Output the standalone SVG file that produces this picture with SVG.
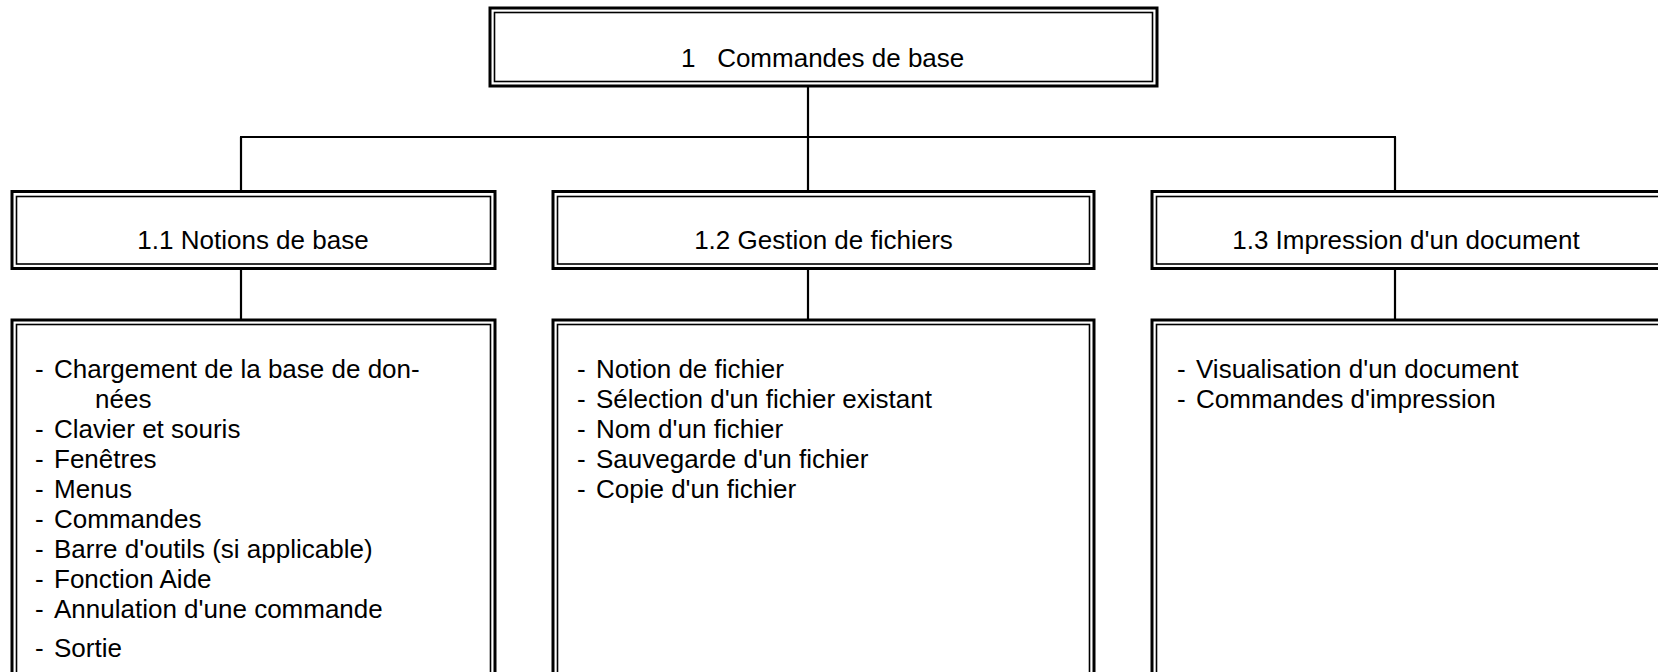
<svg xmlns="http://www.w3.org/2000/svg" width="1658" height="672" viewBox="0 0 1658 672">
<style>
.o{fill:#fff;stroke:#000;stroke-width:3}
.i{fill:none;stroke:#000;stroke-width:1.6}
.c line{stroke:#000;stroke-width:2.2}
text{font-family:"Liberation Sans",Arial,sans-serif;font-size:26px;fill:#000;white-space:pre}
.m{text-anchor:middle}
</style>
<rect width="1658" height="672" fill="#fff"/>
<g id="connectors" class="c">
<line x1="808" y1="86" x2="808" y2="137"/>
<line x1="240" y1="137" x2="1396" y2="137"/>
<line x1="241" y1="137" x2="241" y2="191"/>
<line x1="808" y1="137" x2="808" y2="191"/>
<line x1="1395" y1="137" x2="1395" y2="191"/>
<line x1="241" y1="268" x2="241" y2="320"/>
<line x1="808" y1="268" x2="808" y2="320"/>
<line x1="1395" y1="268" x2="1395" y2="320"/>
</g>
<g id="n1">
<rect class="o" x="490" y="8" width="667" height="78"/>
<rect class="i" x="494.5" y="12.5" width="658" height="69"/>
<text x="681" y="67" xml:space="preserve">1   Commandes de base</text>
</g>
<g id="n11">
<rect class="o" x="12" y="191.5" width="483" height="77"/>
<rect class="i" x="16.5" y="196.5" width="474" height="67.5"/>
<text class="m" x="253" y="249">1.1 Notions de base</text>
</g>
<g id="n12">
<rect class="o" x="553" y="191.5" width="541" height="77"/>
<rect class="i" x="557.5" y="196.5" width="532" height="67.5"/>
<text class="m" x="823.5" y="249">1.2 Gestion de fichiers</text>
</g>
<g id="n13">
<rect class="o" x="1152" y="191.5" width="520" height="77"/>
<rect class="i" x="1156.5" y="196.5" width="511" height="67.5"/>
<text class="m" x="1406" y="249">1.3 Impression d'un document</text>
</g>
<g id="n11d">
<rect class="o" x="12" y="320" width="483" height="400"/>
<rect class="i" x="16.5" y="324.5" width="474" height="400"/>
<text x="35" y="378">-</text><text x="54" y="378">Chargement de la base de don-</text>
<text x="95" y="408">nées</text>
<text x="35" y="438">-</text><text x="54" y="438">Clavier et souris</text>
<text x="35" y="468">-</text><text x="54" y="468">Fenêtres</text>
<text x="35" y="498">-</text><text x="54" y="498">Menus</text>
<text x="35" y="528">-</text><text x="54" y="528">Commandes</text>
<text x="35" y="558">-</text><text x="54" y="558">Barre d'outils (si applicable)</text>
<text x="35" y="588">-</text><text x="54" y="588">Fonction Aide</text>
<text x="35" y="618">-</text><text x="54" y="618">Annulation d'une commande</text>
<text x="35" y="657">-</text><text x="54" y="657">Sortie</text>
</g>
<g id="n12d">
<rect class="o" x="553" y="320" width="541" height="400"/>
<rect class="i" x="557.5" y="324.5" width="532" height="400"/>
<text x="577" y="378">-</text><text x="596" y="378">Notion de fichier</text>
<text x="577" y="408">-</text><text x="596" y="408">Sélection d'un fichier existant</text>
<text x="577" y="438">-</text><text x="596" y="438">Nom d'un fichier</text>
<text x="577" y="468">-</text><text x="596" y="468">Sauvegarde d'un fichier</text>
<text x="577" y="498">-</text><text x="596" y="498">Copie d'un fichier</text>
</g>
<g id="n13d">
<rect class="o" x="1152" y="320" width="520" height="400"/>
<rect class="i" x="1156.5" y="324.5" width="511" height="400"/>
<text x="1177" y="378">-</text><text x="1196" y="378">Visualisation d'un document</text>
<text x="1177" y="408">-</text><text x="1196" y="408">Commandes d'impression</text>
</g>
</svg>
